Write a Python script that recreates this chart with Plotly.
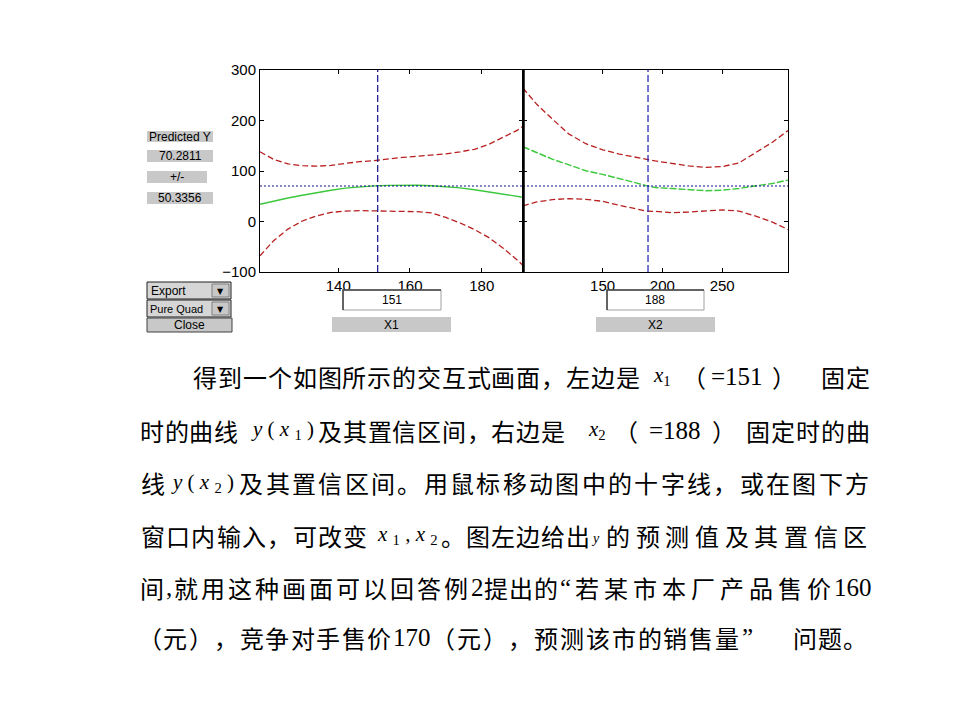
import plotly.graph_objects as go

W, H = 960, 720

# ---------------- data ----------------
x1_fixed = 151
x2_fixed = 188
pred_y = 70.2811
pred_ci = 50.3356

# left panel: response vs x1 (x2 held at 188)
x1_grid = [118.2, 122, 126, 130, 134, 138, 142, 146, 150, 154, 158, 162, 166, 170, 174, 178, 182, 186, 190, 191.5]
y1_pred = [34, 40.5, 46.5, 52, 57.5, 62, 66, 69, 70.5, 71.5, 72, 71.8, 70.8, 69, 66.5, 63, 59, 54.5, 50, 48]
y1_upper = [138, 123, 114, 110.5, 109.5, 111, 115, 118.5, 120.5, 124, 127, 129, 131, 134, 138, 143, 153, 166.5, 181, 189]
y1_lower = [-68, -38, -15, 1, 11, 18, 20.5, 21.5, 21, 21, 20.5, 19.5, 17, 8, -3, -16, -32, -53, -77, -87]

# right panel: response vs x2 (x1 held at 151)
x2_grid = [83.5, 95, 108, 122, 136, 150, 164, 178, 187, 194, 208, 222, 236, 250, 264, 278, 292, 305]
y2_pred = [148, 137, 123.5, 112, 100.5, 93.3, 85.5, 76.5, 70.5, 67.3, 65.3, 63.3, 61, 62, 65.3, 70.7, 75.3, 82]
y2_upper = [264, 232, 203, 173, 154, 142, 133.5, 128, 123, 120, 115.3, 110, 107.3, 108.7, 116, 136, 157, 180]
y2_lower = [31, 38.7, 43.3, 45.3, 44, 40, 32, 25, 20.5, 20, 17.5, 18.7, 20.5, 23, 20.7, 10.7, -1.3, -16]

y_ticks = [-100, 0, 100, 200, 300]
x1_ticks = [140, 160, 180]
x2_ticks = [150, 200, 250]
x1_range = [118.2, 191.5]
x2_range = [83.5, 305]
y_range = [-100, 300]

RED = "#b82020"
GREEN = "#3cc83c"
NAVY = "#10108c"
BLUE = "#1c1cb4"

fig = go.Figure()

# left panel traces
fig.add_trace(go.Scatter(x=x1_grid, y=y1_upper, mode="lines", line=dict(color=RED, width=1.3, dash="6px,3px"), xaxis="x", yaxis="y", hoverinfo="skip"))
fig.add_trace(go.Scatter(x=x1_grid, y=y1_lower, mode="lines", line=dict(color=RED, width=1.3, dash="6px,3px"), xaxis="x", yaxis="y", hoverinfo="skip"))
fig.add_trace(go.Scatter(x=x1_grid, y=y1_pred, mode="lines", line=dict(color=GREEN, width=1.4), xaxis="x", yaxis="y", hoverinfo="skip"))
fig.add_trace(go.Scatter(x=x1_range, y=[pred_y, pred_y], mode="lines", line=dict(color=NAVY, width=1, dash="2px,2px"), xaxis="x", yaxis="y", hoverinfo="skip"))
fig.add_trace(go.Scatter(x=[x1_fixed, x1_fixed], y=y_range, mode="lines", line=dict(color=NAVY, width=1.2, dash="7px,3px"), xaxis="x", yaxis="y", hoverinfo="skip"))

# right panel traces
fig.add_trace(go.Scatter(x=x2_grid, y=y2_upper, mode="lines", line=dict(color=RED, width=1.3, dash="6px,3px"), xaxis="x2", yaxis="y2", hoverinfo="skip"))
fig.add_trace(go.Scatter(x=x2_grid, y=y2_lower, mode="lines", line=dict(color=RED, width=1.3, dash="6px,3px"), xaxis="x2", yaxis="y2", hoverinfo="skip"))
fig.add_trace(go.Scatter(x=x2_grid, y=y2_pred, mode="lines", line=dict(color=GREEN, width=1.4, dash="7px,2px"), xaxis="x2", yaxis="y2", hoverinfo="skip"))
fig.add_trace(go.Scatter(x=x2_range, y=[pred_y, pred_y], mode="lines", line=dict(color=NAVY, width=1, dash="2px,2px"), xaxis="x2", yaxis="y2", hoverinfo="skip"))
fig.add_trace(go.Scatter(x=[x2_fixed, x2_fixed], y=y_range, mode="lines", line=dict(color=BLUE, width=1.2, dash="7px,3px"), xaxis="x2", yaxis="y2", hoverinfo="skip"))


def px(x):
    return x / W


def py(y):
    return 1 - y / H


TICKFONT = dict(family="Liberation Sans, Arial, sans-serif", size=15, color="black")
axis_common = dict(showgrid=False, zeroline=False, showline=True, linecolor="black", linewidth=1,
                   ticks="inside", ticklen=4, tickwidth=1, tickcolor="black", mirror="ticks",
                   tickfont=TICKFONT, fixedrange=True, automargin=False)

ydom = [py(272), py(70)]
fig.update_layout(
    template="none",
    width=W, height=H, autosize=False,
    margin=dict(l=0, r=0, t=0, b=0, pad=0),
    paper_bgcolor="white", plot_bgcolor="white",
    showlegend=False,
    xaxis=dict(domain=[px(260), px(523)], range=x1_range, tickvals=x1_ticks, anchor="y", **axis_common),
    yaxis=dict(domain=ydom, range=y_range, tickvals=y_ticks, anchor="x", **axis_common),
    xaxis2=dict(domain=[px(523), px(788)], range=x2_range, tickvals=x2_ticks, anchor="y2", **axis_common),
    yaxis2=dict(domain=ydom, range=y_range, tickvals=y_ticks, anchor="x2", showticklabels=False, **axis_common),
)

shapes = []
annotations = []

# thick separator between the two panels
shapes.append(dict(type="line", xref="paper", yref="paper", x0=px(523.5), x1=px(523.5), y0=py(272), y1=py(70),
                   line=dict(color="black", width=2.5), layer="above"))

UIFONT = dict(family="Liberation Sans, Arial, sans-serif", size=12, color="black")


def box(x0, y0, x1, y1, fill, line="rgba(0,0,0,0)", lw=1):
    shapes.append(dict(type="rect", xref="paper", yref="paper", x0=px(x0), x1=px(x1), y0=py(y1), y1=py(y0),
                       fillcolor=fill, line=dict(color=line, width=lw), layer="above"))


def label(text, x, y, anchor="center", font=UIFONT):
    annotations.append(dict(text=text, xref="paper", yref="paper", x=px(x), y=py(y), xanchor=anchor,
                            yanchor="middle", showarrow=False, font=font, borderpad=0))


GRAY = "#c8c8c8"
# readout panel
box(147, 131, 213, 142, GRAY); label("Predicted Y", 180, 136.5)
box(147, 150, 213, 162, GRAY); label(f"{pred_y:.4f}", 180, 156)
box(147, 171, 207, 183, GRAY); label("+/-", 177, 177)
box(147, 192, 213, 204, GRAY); label(f"{pred_ci:.4f}", 180, 198)

# popups and close button
box(147, 282, 231, 299, "#d6d6d6", "#202020")
box(212, 284, 229, 297, GRAY, "#808080")
label("Export", 150, 291, "left")
label("\u25BC", 220.5, 291, font=dict(family="DejaVu Sans", size=8, color="black"))
box(147, 300, 231, 317, "#d6d6d6", "#202020")
box(212, 302, 229, 315, GRAY, "#808080")
label("Pure Quad", 149, 309, "left", dict(UIFONT, size=11))
label("\u25BC", 220.5, 309, font=dict(family="DejaVu Sans", size=8, color="black"))
box(147, 318, 232, 332, GRAY, "#404040")
label("Close", 189, 325)

# edit boxes and axis name labels
box(343, 290, 441, 310, "white", "#a0a0a0")
shapes.append(dict(type="path", xref="paper", yref="paper",
                   path=f"M {px(343)},{py(310)} L {px(343)},{py(290)} L {px(441)},{py(290)}",
                   line=dict(color="#404040", width=1.5), layer="above"))
label(str(x1_fixed), 392, 300)
box(332, 317, 451, 332, GRAY); label("X1", 391, 324.5)

box(607, 290, 704, 310, "white", "#a0a0a0")
shapes.append(dict(type="path", xref="paper", yref="paper",
                   path=f"M {px(607)},{py(310)} L {px(607)},{py(290)} L {px(704)},{py(290)}",
                   line=dict(color="#404040", width=1.5), layer="above"))
label(str(x2_fixed), 655, 300)
box(596, 317, 715, 332, GRAY); label("X2", 655, 324.5)

# ---------------- paragraph text ----------------
CJK = dict(family="Noto Sans CJK SC", size=24, color="black")
SERIF = dict(family="Liberation Serif, Times New Roman, serif", size=25, color="black")
MATH = dict(family="Liberation Serif, Times New Roman, serif", size=21, color="black")


def run(text, x0, x1, y):
    n = len(text)
    step = (x1 - x0) / n
    for i, ch in enumerate(text):
        label(ch, x0 + (i + 0.5) * step, y, "center", CJK)


def plain(text, x, y, font):
    label(text, x, y, "left", font)


L = [376, 430, 483, 535, 587, 637]

# line 1
run("得到一个如图所示的交互式画面，左边是", 193, 640, L[0])
plain("<i>x</i><sub>1</sub>", 652, L[0], MATH)
run("（", 682, 706, L[0])
plain("=151", 710, L[0], SERIF)
run("）", 772, 796, L[0])
run("固定", 820, 870, L[0])

# line 2
run("时的曲线", 140, 238, L[1])
plain("<i>y</i> ( <i>x</i> <sub>1</sub> )", 250, L[1], MATH)
run("及其置信区间，右边是", 318, 565, L[1])
plain("<i>x</i><sub>2</sub>", 587, L[1], MATH)
run("（", 614, 638, L[1])
plain("=188", 648, L[1], SERIF)
run("）", 712, 736, L[1])
run("固定时的曲", 745, 870, L[1])

# line 3
run("线", 140, 165, L[2])
plain("<i>y</i> ( <i>x</i> <sub>2</sub> )", 170, L[2], MATH)
run("及其置信区间。用鼠标移动图中的十字线，或在图下方", 238, 870, L[2])

# line 4
run("窗口内输入，可改变", 140, 368, L[3])
plain("<i>x</i> <sub>1</sub> , <i>x</i> <sub>2</sub>", 376, L[3], MATH)
run("。图左边给出", 440, 590, L[3])
plain("<i>y</i>", 590, L[3] + 3, dict(MATH, size=14))
run("的预测值及其置信区", 603, 870, L[3])

# line 5
run("间", 140, 164, L[4])
plain(",", 165, L[4], SERIF)
run("就用这种画面可以回答例", 172, 470, L[4])
plain("2", 470, L[4], SERIF)
run("提出的", 484, 558, L[4])
plain("\u201c", 559, L[4], SERIF)
run("若某市本厂产品售价", 572, 833, L[4])
plain("160", 833, L[4], SERIF)

# line 6
run("（元），竞争对手售价", 137, 392, L[5])
plain("170", 392, L[5], SERIF)
run("（元），预测该市的销售量", 430, 740, L[5])
plain("\u201d", 741, L[5], SERIF)
run("问题。", 792, 868, L[5])

fig.update_layout(shapes=shapes, annotations=annotations)
fig.write_html("out.html")
